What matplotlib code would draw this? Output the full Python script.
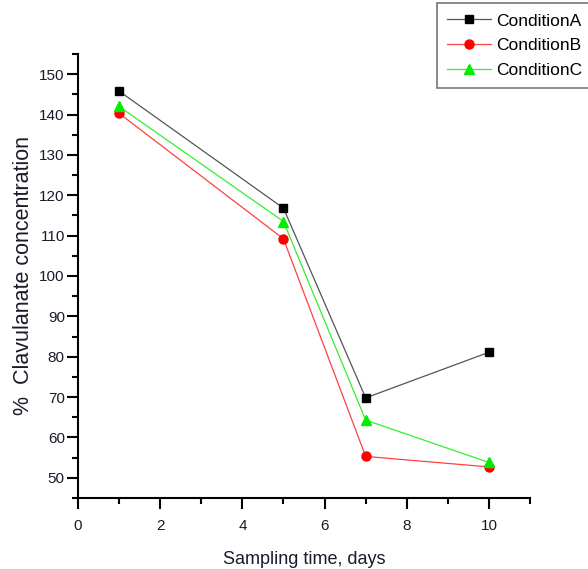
import matplotlib
matplotlib.use("Agg")
import matplotlib.pyplot as plt
from matplotlib.ticker import MultipleLocator

plt.rcParams['font.family'] = ['Liberation Sans', 'DejaVu Sans']

# data
days = [1, 5, 7, 10]
condition_a = [145.8, 116.8, 69.8, 81.1]
condition_b = [140.3, 109.2, 55.3, 52.7]
condition_c = [142.0, 113.5, 64.3, 53.8]

fig = plt.figure(figsize=(5.88, 5.69), dpi=100)
ax = fig.add_axes([0.1327, 0.1248, 0.7687, 0.7803])

ax.plot(days, condition_a, color='#555555', lw=0.9, marker='s', ms=6,
        mfc='black', mec='black', label='ConditionA')
ax.plot(days, condition_b, color='#ff4040', lw=0.9, marker='o', ms=6.5,
        mfc='red', mec='red', label='ConditionB')
ax.plot(days, condition_c, color='#33ee33', lw=0.9, marker='^', ms=7,
        mfc='#00ee00', mec='#00ee00', label='ConditionC')

ax.set_xlim(0, 11)
ax.set_ylim(45, 155)
ax.xaxis.set_major_locator(MultipleLocator(2))
ax.xaxis.set_minor_locator(MultipleLocator(1))
ax.yaxis.set_minor_locator(MultipleLocator(5))
ax.set_yticks(range(50, 151, 10))

for side in ['top', 'right']:
    ax.spines[side].set_visible(False)
for side in ['left', 'bottom']:
    ax.spines[side].set_linewidth(1.5)
ax.tick_params(which='major', direction='out', length=8, width=1.5,
               labelsize=11, colors='black', labelcolor='#1a1a2a')
ax.tick_params(which='minor', direction='out', length=4, width=1.5)
ax.tick_params(axis='y', pad=1.5)
ax.tick_params(axis='x', pad=7)

ax.set_xlabel('Sampling time, days', fontsize=13, labelpad=13, color='#1a1a2a')
ax.set_ylabel('%  Clavulanate concentration', fontsize=15.5, labelpad=4,
              color='#1a1a2a')

leg = fig.legend(loc='upper left', bbox_to_anchor=(437 / 588, 1 - 3 / 569),
                 fontsize=12.5, frameon=True, fancybox=False, borderpad=0.6,
                 handlelength=2.5, labelspacing=0.55, handletextpad=0.3,
                 borderaxespad=0)
leg.get_frame().set_edgecolor('#555555')
leg.get_frame().set_linewidth(1.2)

fig.savefig('out.png', dpi=100)
